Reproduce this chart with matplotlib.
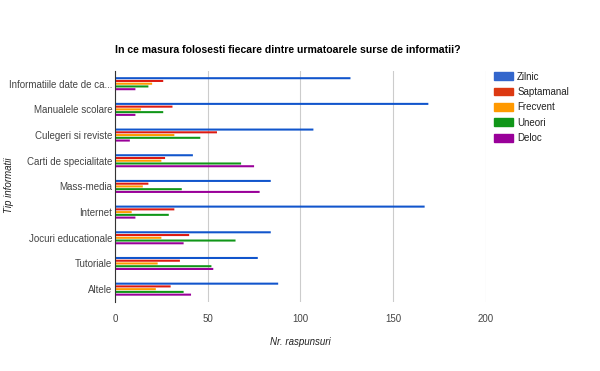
import numpy as np
import matplotlib
matplotlib.use("Agg")
import matplotlib.pyplot as plt
from matplotlib.patches import Patch

plt.rcParams["font.family"] = ["Liberation Sans", "DejaVu Sans"]

categories = ["Informatiile date de ca...", "Manualele scolare", "Culegeri si reviste",
              "Carti de specialitate", "Mass-media", "Internet", "Jocuri educationale",
              "Tutoriale", "Altele"]
series_names = ["Zilnic", "Saptamanal", "Frecvent", "Uneori", "Deloc"]
colors = ["#3366cc", "#dc3912", "#ff9900", "#109618", "#990099"]
bar_colors = ["#1155cc", "#dc1a12", "#ff9900", "#109618", "#990099"]

zilnic = [127, 169, 107, 42, 84, 167, 84, 77, 88]
saptamanal = [26, 31, 55, 27, 18, 32, 40, 35, 30]
frecvent = [20, 14, 32, 25, 15, 9, 25, 23, 22]
uneori = [18, 26, 46, 68, 36, 29, 65, 52, 37]
deloc = [11, 11, 8, 75, 78, 11, 37, 53, 41]
values = [zilnic, saptamanal, frecvent, uneori, deloc]

fig = plt.figure(figsize=(6, 3.71), dpi=100)
ax = fig.add_axes([0.1917, 0.186, 0.618, 0.623])

y = np.arange(len(categories))
step = 0.107
h = 0.08
for i, (vals, col) in enumerate(zip(values, bar_colors)):
    ax.barh(y + (i - 2) * step, vals, height=h, color=col, zorder=3,
            snap=False, linewidth=0)

ax.set_xlim(0, 200)
ax.set_ylim(len(categories) - 0.5, -0.5)
ax.set_yticks(y)
ax.set_yticklabels(categories)
ax.set_xticks([0, 50, 100, 150, 200])
ax.tick_params(axis="both", length=0, labelsize=7, colors="#444444")
ax.tick_params(axis="x", pad=9)
ax.tick_params(axis="y", pad=2)
ax.grid(axis="x", color="#cccccc", lw=0.8, zorder=0)
for s in ["top", "right", "bottom"]:
    ax.spines[s].set_visible(False)
ax.spines["left"].set_color("#333333")
ax.spines["left"].set_linewidth(0.8)
ax.spines["left"].set_zorder(4)

fig.text(0.192, 0.865, "In ce masura folosesti fiecare dintre urmatoarele surse de informatii?",
         fontsize=7.6, fontweight="bold", color="#000000", va="center", ha="left")
fig.text(0.5, 0.078, "Nr. raspunsuri", fontsize=7, style="italic", color="#222222",
         ha="center", va="center")
fig.text(0.015, 0.5, "Tip informatii", fontsize=7, style="italic", color="#222222",
         rotation=90, ha="center", va="center")

handles = [Patch(facecolor=c, edgecolor=c) for c in colors]
fig.legend(handles, series_names, loc="upper left", bbox_to_anchor=(0.823, 0.807),
           frameon=False, fontsize=7, handlelength=2.0, handleheight=0.85,
           labelspacing=0.55, handletextpad=0.4, borderaxespad=0, borderpad=0,
           labelcolor="#222222")

fig.savefig("out.png", dpi=100)
